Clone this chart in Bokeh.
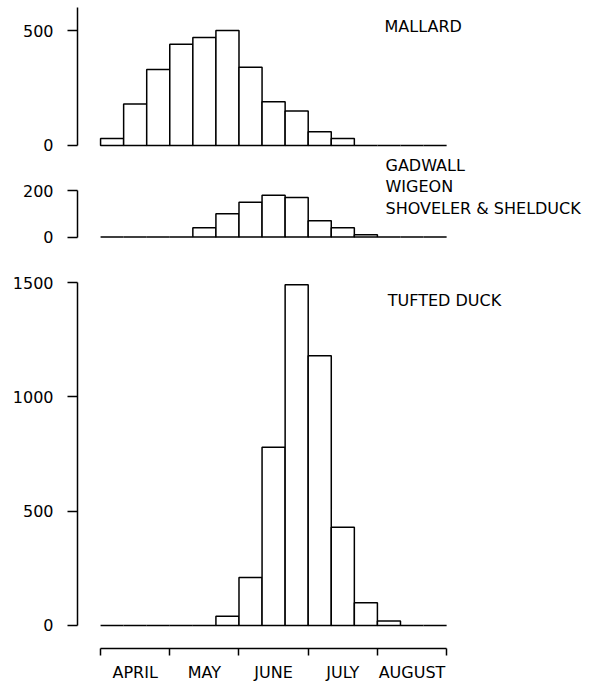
from bokeh.plotting import figure
from bokeh.models import Range1d, FixedTicker, Label
from bokeh.layouts import column
from bokeh.embed import file_html
from bokeh.resources import INLINE

# ---- data (ten-day periods, April to August) ----
months = ["APRIL", "MAY", "JUNE", "JULY", "AUGUST"]
periods_per_month = 3
mallard = [30, 180, 330, 440, 470, 500, 340, 190, 150, 60, 30, 0, 0, 0, 0]
gadwall_group = [0, 0, 0, 0, 40, 100, 150, 180, 170, 70, 40, 10, 0, 0, 0]
tufted = [0, 0, 0, 0, 0, 40, 210, 780, 1490, 1180, 430, 100, 20, 0, 0]
mallard_ticks = [0, 500]
gadwall_ticks = [0, 200]
tufted_ticks = [0, 500, 1000, 1500]

n = len(months) * periods_per_month
lefts = list(range(n))
rights = [i + 1 for i in lefts]

FONT = "DejaVu Sans"
W = 596
LEFT = 77
PX_PER_BIN = 23.07
FRAME_W = W - LEFT
X_START = -1.0
X_END = X_START + FRAME_W / PX_PER_BIN


def panel(values, y0, y1, frame_h, top, bottom, ticks, bound_top):
    p = figure(width=W, frame_width=FRAME_W, frame_height=frame_h,
               min_border_left=LEFT, min_border_right=0,
               min_border_top=top, min_border_bottom=bottom,
               x_range=Range1d(X_START, X_END), y_range=Range1d(y0, y1),
               output_backend="svg", toolbar_location=None,
               x_axis_location=None if bottom == 0 else "below")
    p.outline_line_color = None
    p.xgrid.visible = False
    p.ygrid.visible = False
    p.background_fill_color = "white"
    p.border_fill_color = "white"
    p.quad(left=lefts, right=rights, bottom=[0] * n, top=values,
           fill_color="white", line_color="black", line_width=1.5)
    ax = p.yaxis[0]
    ax.ticker = FixedTicker(ticks=ticks, minor_ticks=[])
    ax.bounds = (0, bound_top)
    ax.axis_line_width = 1.5
    ax.axis_line_color = "black"
    ax.major_tick_line_width = 1.5
    ax.major_tick_line_color = "black"
    ax.major_tick_out = 10
    ax.major_tick_in = 0
    ax.minor_tick_out = 0
    ax.minor_tick_in = 0
    ax.major_label_text_font = FONT
    ax.major_label_text_font_size = "16px"
    ax.major_label_text_color = "black"
    ax.major_label_standoff = 14
    return p


def lab(p, text, x, y):
    p.add_layout(Label(x=x, y=y, text=text, text_font=FONT,
                       text_font_size="16px", text_color="black",
                       text_align="left", text_baseline="middle"))


p1 = panel(mallard, -43.5, 608.7, 150, 5, 0, mallard_ticks, 600)
lab(p1, "MALLARD", 12.31, 517)

p2 = panel(gadwall_group, -58, 350.5, 95, 0, 0, gadwall_ticks, 200)
lab(p2, "GADWALL", 12.35, 309)
lab(p2, "WIGEON", 12.35, 217)
lab(p2, "SHOVELER & SHELDUCK", 12.35, 123)

p3 = panel(tufted, -100.6, 1640, 398, 0, 36, tufted_ticks, 1500)
lab(p3, "TUFTED DUCK", 12.45, 1421)

xa = p3.xaxis[0]
centers = [i * periods_per_month + periods_per_month / 2 for i in range(len(months))]
bounds_ticks = [i * periods_per_month for i in range(len(months) + 1)]
xa.ticker = FixedTicker(ticks=centers, minor_ticks=bounds_ticks)
xa.major_label_overrides = {c: m for c, m in zip(centers, months)}
xa.bounds = (0, n)
xa.axis_line_width = 1.5
xa.axis_line_color = "black"
xa.major_tick_out = 0
xa.major_tick_in = 0
xa.minor_tick_out = 7
xa.minor_tick_in = 0
xa.minor_tick_line_width = 1.5
xa.minor_tick_line_color = "black"
xa.major_label_text_font = FONT
xa.major_label_text_font_size = "16px"
xa.major_label_text_color = "black"
xa.major_label_standoff = 7

layout = column(p1, p2, p3, spacing=0)
open("out.html", "w").write(file_html(layout, INLINE))
